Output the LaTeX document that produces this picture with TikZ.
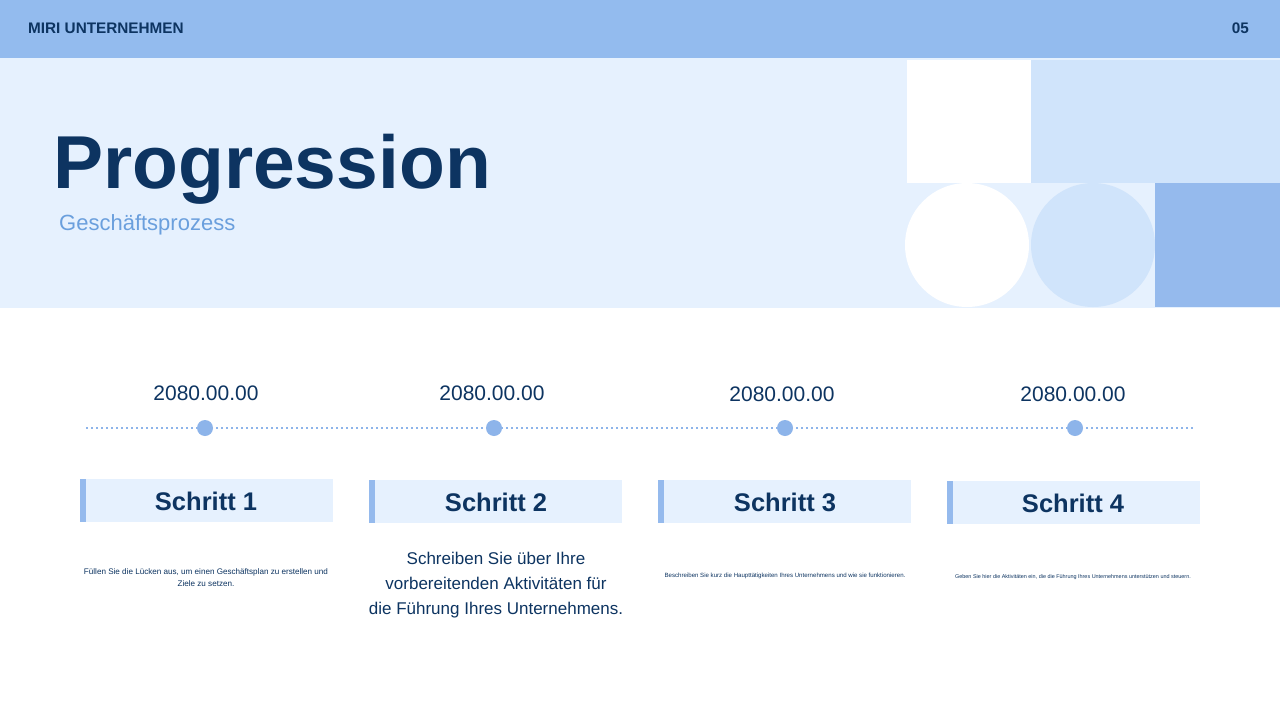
\documentclass[tikz,border=0pt]{standalone}
\usepackage{fontspec}
\setmainfont{Liberation Sans}
\definecolor{navy}{HTML}{0D3461}
\definecolor{hdr}{HTML}{93BBEE}
\definecolor{panel}{HTML}{E6F1FE}
\definecolor{midblue}{HTML}{D0E4FB}
\definecolor{accent}{HTML}{95BAED}
\definecolor{subtxt}{HTML}{6A9FDD}
\definecolor{dotc}{HTML}{8DB4EA}
\newcommand{\fs}[1]{\fontsize{#1}{#1}\selectfont}
\tikzset{
  datelbl/.style={text=navy, font=\fs{21}, inner sep=0pt},
  stepbox/.style={fill=panel, minimum width=253pt, minimum height=43pt, inner sep=0pt, anchor=north west},
  steptxt/.style={text=navy, font=\bfseries\fs{25.5}, inner sep=0pt},
  accbar/.style={fill=accent, minimum width=6pt, minimum height=43pt, inner sep=0pt, anchor=north west},
  tdot/.style={circle, fill=dotc, minimum size=16pt, inner sep=0pt},
  desc/.style={text=navy, align=center, inner sep=0pt},
}
\begin{document}
\begin{tikzpicture}[x=1pt,y=-1pt]
\useasboundingbox (0,0) rectangle (1280,720);
\fill[white] (0,0) rectangle (1280,720);
% header
\fill[hdr] (0,0) rectangle (1280,58);
\node[anchor=west, text=navy, font=\bfseries\fs{15.3}, inner sep=0pt] (brand) at (28,28.5) {MIRI UNTERNEHMEN};
\node[anchor=east, text=navy, font=\bfseries\fs{15.3}, inner sep=0pt] (pnum) at (1249,28.5) {05};
% title panel
\fill[panel] (0,58) rectangle (1280,308);
\fill[white] (907,60) rectangle (1031,183);
\fill[midblue] (1031,60) rectangle (1280,183);
\fill[white] (967,245) circle (62);
\fill[midblue] (1093,245) circle (62);
\fill[accent] (1155,183) rectangle (1280,307);
\node[anchor=base west, text=navy, font=\bfseries\fs{75}, inner sep=0pt] (title) at (53,188) {Progression};
\node[anchor=west, text=subtxt, font=\fs{22}, inner sep=0pt] (sub) at (59,224.5) {Geschäftsprozess};
% timeline
\coordinate (tl) at (86,428);
\coordinate (tr) at (1194,428);
\draw[dotc, line width=2pt, dash pattern=on 2pt off 3pt] (tl) -- (tr);
\node[tdot] (d1) at (205,428) {};
\node[tdot] (d2) at (494,428) {};
\node[tdot] (d3) at (785,428) {};
\node[tdot] (d4) at (1075,428) {};
\node[datelbl] (t1) at (206,393) {2080.00.00};
\node[datelbl] (t2) at (492,393) {2080.00.00};
\node[datelbl] (t3) at (782,394) {2080.00.00};
\node[datelbl] (t4) at (1073,394) {2080.00.00};
% step boxes
\node[stepbox] (b1) at (80,479) {};
\node[accbar] (a1) at (80,479) {};
\node[steptxt] (s1) at (206,501) {Schritt 1};
\node[stepbox] (b2) at (369,480) {};
\node[accbar] (a2) at (369,480) {};
\node[steptxt] (s2) at (496,502) {Schritt 2};
\node[stepbox] (b3) at (658,480) {};
\node[accbar] (a3) at (658,480) {};
\node[steptxt] (s3) at (785,502) {Schritt 3};
\node[stepbox] (b4) at (947,481) {};
\node[accbar] (a4) at (947,481) {};
\node[steptxt] (s4) at (1073,503) {Schritt 4};
% descriptions
\node[desc, font=\fontsize{8.1}{12}\selectfont] (e1) at (206,577.5) {Füllen Sie die Lücken aus, um einen Geschäftsplan zu erstellen und\\Ziele zu setzen.};
\node[desc, font=\fontsize{17}{25}\selectfont] (e2) at (496,585) {Schreiben Sie über Ihre\\vorbereitenden Aktivitäten für\\die Führung Ihres Unternehmens.};
\node[desc, font=\fs{6.1}] (e3) at (785,575.5) {Beschreiben Sie kurz die Haupttätigkeiten Ihres Unternehmens und wie sie funktionieren.};
\node[desc, font=\fs{5.45}] (e4) at (1073,577.5) {Geben Sie hier die Aktivitäten ein, die die Führung Ihres Unternehmens unterstützen und steuern.};
\end{tikzpicture}
\end{document}
